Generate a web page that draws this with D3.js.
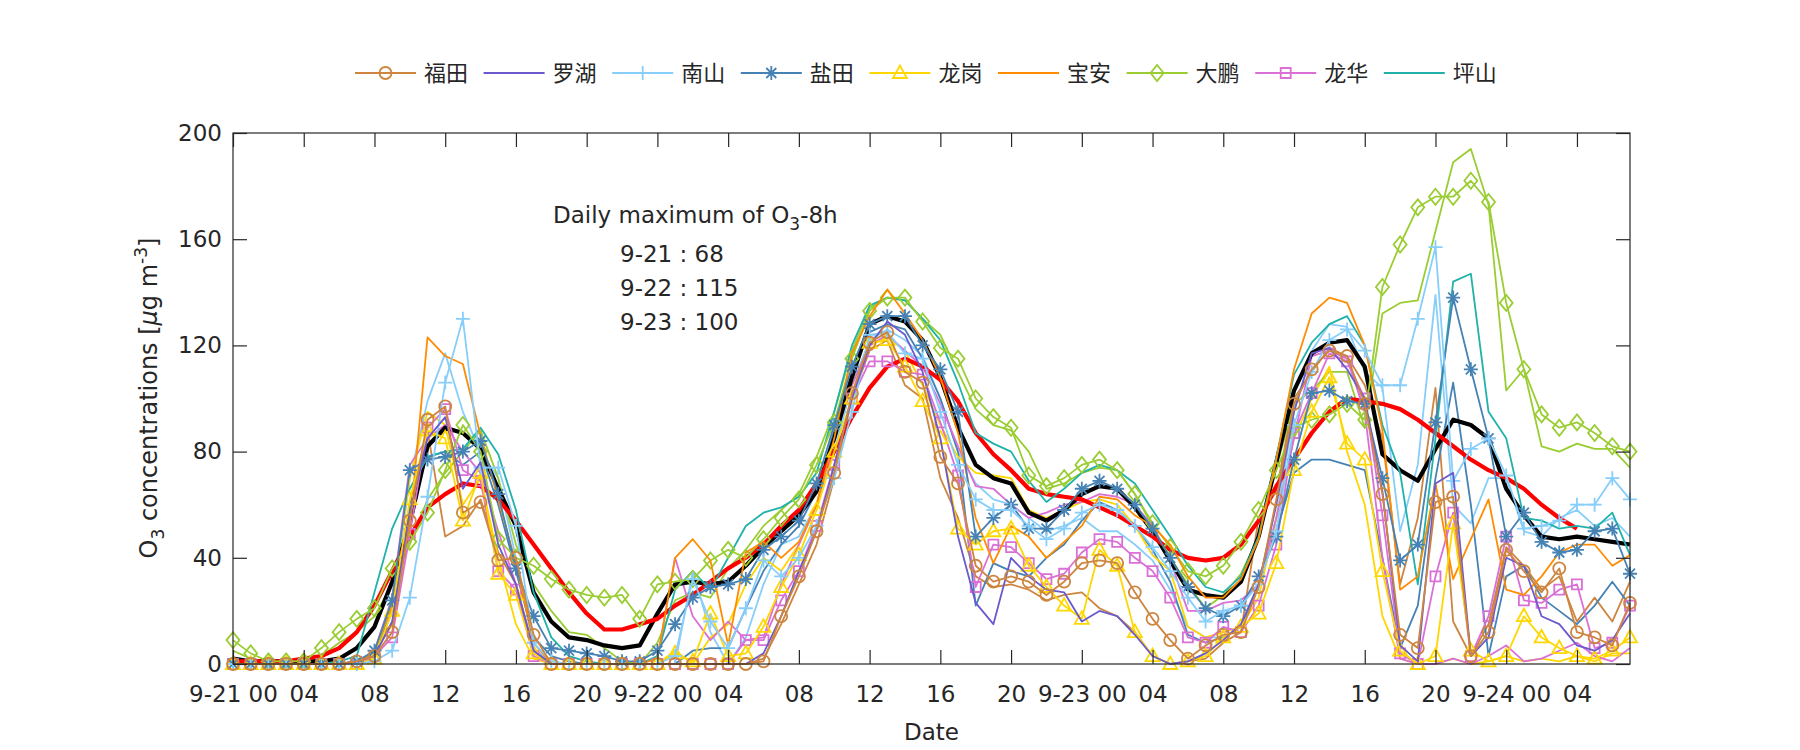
<!DOCTYPE html>
<html><head><meta charset="utf-8">
<script src="https://cdn.jsdelivr.net/npm/d3@7"></script>
<style>
body{margin:0;background:#fff}
svg{display:block}
text{font-family:"DejaVu Sans",Arial,sans-serif;fill:#262626}
</style></head>
<body><svg id="chart" width="1800" height="750"></svg>
<script>
// ---------------- data ----------------
const hours = d3.range(80); // 9-21 00:00 .. 9-24 07:00
const xTickValues = d3.range(0, 77, 4);
const xTickLabels = ["9-21 00","04","08","12","16","20","9-22 00","04","08","12","16","20","9-23 00","04","08","12","16","20","9-24 00","04"];
const yTickValues = [0,40,80,120,160,200];
const stationNames = ["福田","罗湖","南山","盐田","龙岗","宝安","大鹏","龙华","坪山"];
const noteTitle = "Daily maximum of O3-8h";
const noteDays = ["9-21","9-22","9-23"];
const noteMax = [68,115,100];

const futian  = [0,0,0,0,0,0,0,1, 3,12,54,92,97,57,61,39,40, 11,0,0,0,0,0,0, 0,0,0,0,0,0,1,18, 33,50,72,102,121,125,110,106,78,68,37,31,33,31,26,31, 38,39,38,27,17,9,2,7,11,12,29,62,98,111,118,116, 98,64,11,6,61,63,3,12,43,35,27,36,12,10,7,23];
const futian2 = [0,0,0,0,0,0,0,1, 4,15,60,88,48,52,62,42,30, 6,0,0,0,0,0,0, 0,0,0,0,0,0,2,15, 30,45,70,100,118,122,105,100,70,55,33,29,30,28,24,26, 27,21,18,12,3,0,1,2,8,12,55,65,100,110,119,116, 105,85,30,55,104,16,3,15,44,37,28,33,16,25,16,31];
const luohu   = [0,0,0,0,0,0,0,1, 3,16,57,85,93,66,76,45,30, 5,0,0,0,0,0,0, 0,0,0,0,0,0,4,18, 35,50,75,100,120,129,124,110,85,48,23,15,40,33,28,27, 16,20,18,11,3,0,1,4,9,15,30,60,95,117,119,111, 100,65,7,1,68,72,3,10,40,37,18,15,7,5,9,19];
const nanshan = [0,0,0,0,0,0,0,0, 1,5,25,63,106,130,74,74,52, 8,1,0,0,0,0,0, 0,3,32,16,6,21,39,33, 40,52,70,95,124,125,117,115,95,75,62,58,58,52,47,51, 57,60,58,52,44,35,25,16,20,22,30,50,90,110,122,126, 118,105,105,130,157,69,81,85,71,51,52,54,60,60,70,62];
const nanshan2= [0,0,0,0,0,0,0,0, 2,20,70,99,117,95,80,70,40, 6,0,0,0,0,0,0, 0,0,35,12,0,10,30,45, 48,60,80,105,122,126,122,116,100,80,68,62,60,55,50,52, 55,50,50,45,39,28,14,10,10,14,30,55,95,118,128,127, 110,104,50,75,139,60,53,70,70,50,48,55,58,52,55,48];
const yantian = [0,0,0,0,0,0,0,1, 5,24,73,77,78,80,84,64,36, 18,6,5,4,3,1,1, 5,15,25,29,30,32,43,48, 54,68,90,112,128,131,131,120,111,95,48,55,60,51,51,58, 66,69,66,60,51,40,29,21,18,22,33,48,77,102,103,99, 98,70,39,45,91,138,111,85,48,57,46,42,43,50,51,34];
const yantian2= [0,0,0,0,0,0,0,1, 4,20,60,78,80,75,80,60,35, 10,3,1,0,0,0,0, 0,0,5,6,6,21,35,45, 52,65,88,110,125,128,126,115,100,80,22,38,35,33,40,45, 54,61,58,52,43,31,11,8,10,14,30,50,72,77,77,75, 73,40,6,22,70,106,60,3,33,37,25,20,15,22,31,22];
const longgang = [0,0,0,0,0,0,0,0, 2,20,62,88,85,54,72,34,26, 4,0,0,0,0,0,0, 0,4,1,19,3,4,14,29, 41,58,80,100,121,122,112,99,85,51,45,50,51,37,29,22, 17,43,37,12,3,0,1,3,10,14,19,38,73,95,108,83, 77,35,5,0,3,53,5,1,3,18,10,6,3,2,5,10];
const longgang2= [0,0,0,0,0,0,0,0, 3,25,70,95,90,60,70,40,15, 2,0,0,0,0,0,0, 0,5,0,10,15,30,40,35, 45,60,85,105,120,123,118,105,90,78,72,71,70,58,55,58, 61,62,60,52,41,35,14,10,12,14,25,55,85,100,112,80, 60,18,2,0,0,2,0,1,3,1,2,1,3,1,4,4];
const baoan   = [0,0,0,0,0,0,0,0, 5,22,52,123,116,113,86,62,38, 8,0,0,0,0,0,0, 2,40,47,39,7,42,46,40, 46,60,85,117,131,141,132,122,108,87,55,38,52,48,40,46, 52,63,62,56,52,45,33,25,25,32,47,77,111,132,138,136, 120,88,28,33,68,32,47,62,28,26,33,42,45,45,37,41];
const dapeng  = [9,4,1,1,1,6,12,17, 21,36,46,57,73,90,80,47,40, 37,32,28,26,25,26,17, 30,31,32,39,43,40,47,55, 62,75,91,115,133,138,138,129,119,115,100,93,89,71,67,70, 75,77,73,64,53,44,35,33,37,46,58,73,89,92,94,98, 92,142,158,172,176,176,182,174,136,111,94,89,91,87,82,80];
const dapeng2 = [5,2,0,0,0,3,8,12, 18,30,45,62,72,80,88,70,45, 30,20,12,11,6,1,0, 8,24,27,25,36,43,52,58, 64,78,95,118,134,138,137,130,124,110,96,90,88,80,66,68, 72,74,73,64,52,40,30,21,26,34,48,74,98,103,110,110, 89,132,136,137,163,189,194,173,103,111,82,80,83,81,81,74];
const longhua = [0,0,0,0,0,0,0,0, 3,10,49,89,96,73,69,35,28, 3,0,0,0,0,0,0, 0,0,0,0,0,9,9,24, 35,52,75,100,114,114,110,109,91,71,29,45,44,38,32,34, 42,47,46,40,35,25,10,8,14,12,22,45,87,102,117,114, 100,56,4,0,33,57,3,18,48,24,23,28,30,6,8,22];
const longhua2= [0,0,0,0,0,0,0,0, 5,25,75,85,90,80,72,50,30, 5,0,0,0,0,0,0, 2,40,18,9,16,9,10,30, 45,60,85,105,120,124,118,112,98,82,67,66,60,55,57,60, 61,64,63,60,52,39,20,20,23,24,30,55,85,116,118,115, 95,40,2,0,0,2,0,3,7,1,2,5,8,3,1,6];
const pingshan= [0,0,0,0,0,0,1,3, 27,51,66,78,80,81,89,79,58, 27,10,3,1,0,0,0, 3,28,35,28,40,52,57,59, 63,72,95,120,135,138,137,130,122,106,87,83,80,69,61,66, 72,75,73,68,58,48,37,29,27,33,48,78,109,121,128,131, 120,90,72,30,85,144,147,95,85,55,54,51,52,51,57,41];
const meanO3  = [2,1,1,1,1,1,2,6, 14,31,53,82,89,87,81,66,52, 27,16,10,9,7,6,7, 19,30,31,30,31,37,44,50, 56,65,85,108,128,131,129,122,108,89,75,70,68,57,54,58, 64,67,66,59,50,39,28,26,25,31,48,76,103,117,121,122, 112,79,73,69,81,92,90,85,66,56,48,47,48,47,46,45];
const o3_8h   = [1,1,1,1,2,3,6,12, 22,35,48,59,64,68,67,62,54, 45,36,27,19,13,13,15, 17,22,26,31,36,40,45,52, 58,68,80,93,104,112,115,112,107,99,87,79,73,66,64,63, 62,59,56,52,48,43,40,39,40,45,54,67,77,87,95,100, 99,98,96,92,87,82,77,73,70,66,60,55,51];

// ---------------- styles ----------------
const colors = {"福田":"#CD853F","罗湖":"#6A5ACD","南山":"#87CEFA","盐田":"#4682B4","龙岗":"#FFD700","宝安":"#FF8C00","大鹏":"#9ACD32","龙华":"#DA70D6","坪山":"#20B2AA"};
const markers = {"福田":"o","罗湖":null,"南山":"+","盐田":"*","龙岗":"^","宝安":null,"大鹏":"d","龙华":"s","坪山":null};
const mainValues = {"福田":futian,"罗湖":luohu,"南山":nanshan,"盐田":yantian,"龙岗":longgang,"宝安":baoan,"大鹏":dapeng,"龙华":longhua,"坪山":pingshan};
const extraValues = [["福田",futian2],["南山",nanshan2],["盐田",yantian2],["龙岗",longgang2],["大鹏",dapeng2],["龙华",longhua2]];

function markerPath(m){
  switch(m){
    case "o": {const r=6; return `M${r},0A${r},${r} 0 1,1 ${-r},0A${r},${r} 0 1,1 ${r},0Z`;}
    case "+": return "M-7,0H7M0,-7V7";
    case "*": return "M-7,0H7M0,-7V7M-5,-5L5,5M-5,5L5,-5";
    case "^": return "M0,-7.5L7,5L-7,5Z";
    case "d": return "M0,-8L6.5,0L0,8L-6.5,0Z";
    case "s": return "M-5,-5H5V5H-5Z";
  }
  return null;
}

// ---------------- chart ----------------
const svg = d3.select("#chart");
const x = d3.scaleLinear().domain([0,79]).range([233,1630]);
const y = d3.scaleLinear().domain([0,200]).range([664,133]);
const axisColor = "#262626";
const fontMain = "'DejaVu Sans',Arial,sans-serif";

const line = d3.line().x((d,i)=>x(hours[i])).y(d=>y(d));
const plot = svg.append("g");

function drawSeries(vals, color, width, marker){
  plot.append("path").datum(vals).attr("d", line)
    .attr("fill","none").attr("stroke",color).attr("stroke-width",width)
    .attr("stroke-linejoin","round");
  if(marker){
    const p = markerPath(marker);
    plot.append("g").selectAll("path").data(vals).join("path")
      .attr("d", p)
      .attr("transform",(d,i)=>`translate(${x(hours[i])},${y(d)})`)
      .attr("fill","none").attr("stroke",color).attr("stroke-width",1.8);
  }
}

extraValues.forEach(([name, vals]) => drawSeries(vals, colors[name], 1.8, null));
drawSeries(meanO3, "#000", 4.2, null);
drawSeries(o3_8h, "#FF0000", 4.2, null);
stationNames.slice().reverse().forEach(name => drawSeries(mainValues[name], colors[name], 1.8, markers[name]));

// axes
const fs = 23;
const gx = svg.append("g").attr("transform","translate(0,664)")
  .call(d3.axisBottom(x).tickValues(xTickValues).tickFormat((d,i)=>xTickLabels[i]).tickSizeInner(-14).tickSizeOuter(0).tickPadding(22));
const gxt = svg.append("g").attr("transform","translate(0,133)")
  .call(d3.axisTop(x).tickValues(xTickValues).tickFormat("").tickSizeInner(-14).tickSizeOuter(0));
const gy = svg.append("g").attr("transform","translate(233,0)")
  .call(d3.axisLeft(y).tickValues(yTickValues).tickSizeInner(-14).tickSizeOuter(0).tickPadding(11));
const gyr = svg.append("g").attr("transform","translate(1630,0)")
  .call(d3.axisRight(y).tickValues(yTickValues).tickFormat("").tickSizeInner(-14).tickSizeOuter(0));
[gx,gxt,gy,gyr].forEach(g=>{
  g.select(".domain").remove();
  g.selectAll("line").attr("stroke",axisColor).attr("stroke-width",1.2);
  g.selectAll("text").attr("font-size",fs).attr("fill",axisColor).style("font-family",fontMain);
});
svg.append("rect").attr("x",233).attr("y",133).attr("width",1630-233).attr("height",664-133)
  .attr("fill","none").attr("stroke",axisColor).attr("stroke-width",1.2);

// axis labels
svg.append("text").attr("x",(233+1630)/2).attr("y",740).attr("text-anchor","middle").attr("font-size",fs).text("Date");
const ylfs = 24;
const yl = svg.append("text").attr("transform","translate(149,398) rotate(-90)").attr("text-anchor","middle")
  .attr("dy","0.35em").attr("font-size",ylfs);
yl.append("tspan").text("O");
yl.append("tspan").attr("font-size",17).attr("dy",7).text("3");
yl.append("tspan").attr("dy",-7).text(" concentrations [");
yl.append("tspan").attr("font-style","italic").text("μ");
yl.append("tspan").text("g m");
yl.append("tspan").attr("font-size",17).attr("dy",-10).text("-3");
yl.append("tspan").attr("dy",10).text("]");

// annotation
const nt = svg.append("text").attr("x",553).attr("y",223).attr("font-size",fs);
nt.append("tspan").text(noteTitle.slice(0,-4));
nt.append("tspan").attr("font-size",17).attr("dy",7).text("3");
nt.append("tspan").attr("dy",-7).text("-8h");
noteDays.forEach((d,i)=>{
  svg.append("text").attr("x",620).attr("y",262+i*34).attr("font-size",fs).text(`${d} : ${noteMax[i]}`);
});

// legend
const leg = svg.append("g");
stationNames.forEach((name,i)=>{
  const x0 = 355 + 128.6*i, yc = 73;
  const g = leg.append("g");
  g.append("line").attr("x1",x0).attr("x2",x0+61).attr("y1",yc).attr("y2",yc)
    .attr("stroke",colors[name]).attr("stroke-width",1.8);
  const m = markerPath(markers[name]);
  if(m) g.append("path").attr("d",m).attr("transform",`translate(${x0+30.5},${yc})`)
    .attr("fill","none").attr("stroke",colors[name]).attr("stroke-width",1.8);
  g.append("text").attr("x",x0+69).attr("y",yc).attr("dy","0.35em").attr("font-size",22)
    .style("font-family","'Noto Sans CJK SC',sans-serif").attr("fill","#000").text(name);
});
</script></body></html>
